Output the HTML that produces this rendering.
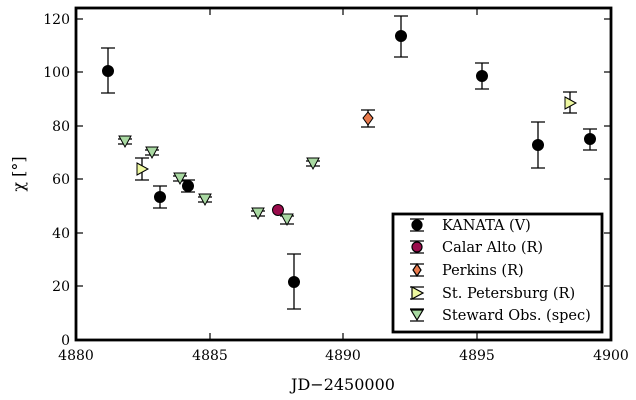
<!DOCTYPE html>
<html><head><style>body{margin:0;background:#fff}svg{display:block}text{font-family:"DejaVu Serif","Liberation Serif",serif}</style></head><body>
<svg width="636" height="400" viewBox="0 0 636 400" xmlns="http://www.w3.org/2000/svg">
<g stroke="#000" stroke-width="1.2">
<line x1="76" y1="340" x2="76" y2="333"/><line x1="210" y1="340" x2="210" y2="333"/><line x1="343" y1="340" x2="343" y2="333"/><line x1="477" y1="340" x2="477" y2="333"/>
<line x1="210" y1="8" x2="210" y2="15"/><line x1="343" y1="8" x2="343" y2="15"/><line x1="477" y1="8" x2="477" y2="15"/>
<line x1="76" y1="19" x2="83" y2="19"/><line x1="76" y1="72" x2="83" y2="72"/><line x1="76" y1="126" x2="83" y2="126"/><line x1="76" y1="179" x2="83" y2="179"/><line x1="76" y1="233" x2="83" y2="233"/><line x1="76" y1="286" x2="83" y2="286"/>
<line x1="611" y1="19" x2="604" y2="19"/><line x1="611" y1="72" x2="604" y2="72"/><line x1="611" y1="126" x2="604" y2="126"/><line x1="611" y1="179" x2="604" y2="179"/><line x1="611" y1="233" x2="604" y2="233"/><line x1="611" y1="286" x2="604" y2="286"/>
</g>
<g font-size="14" text-anchor="end" fill="#000">
<text x="70" y="24">120</text><text x="70" y="77">100</text><text x="70" y="131">80</text><text x="70" y="184">60</text><text x="70" y="238">40</text><text x="70" y="291">20</text><text x="70" y="345">0</text>
</g>
<g font-size="14" text-anchor="middle">
<text x="76" y="360">4880</text><text x="210" y="360">4885</text><text x="343" y="360">4890</text><text x="477" y="360">4895</text><text x="611" y="360">4900</text>
<text x="343" y="390" font-size="16">JD−2450000</text>
<text transform="translate(24,174) rotate(-90)" font-size="16">χ [°]</text>
</g>
<g stroke="#000" stroke-width="1.3" fill="none">
<path d="M108 48V93M101 48H115M101 93H115"/>
<path d="M160 186V208M153 186H167M153 208H167"/>
<path d="M188 180V192M181 180H195M181 192H195"/>
<path d="M294 254V309M287 254H301M287 309H301"/>
<path d="M401 16V57M394 16H408M394 57H408"/>
<path d="M482 63V89M475 63H489M475 89H489"/>
<path d="M538 122V168M531 122H545M531 168H545"/>
<path d="M590 129V150M583 129H597M583 150H597"/>
<path d="M368 110V127M361 110H375M361 127H375"/>
<path d="M142 158V180M135 158H149M135 180H149"/>
<path d="M570 92V113M563 92H577M563 113H577"/>
<path d="M118 139H132M145 150H159M173 176H187M198 197H212M251 211H265M280 216H294M306 161H320M280 224H294M118 144H132M145 155H159M173 181H187M198 202H212M251 216H265M306 166H320"/>
</g>
<g stroke="#000" stroke-width="1">
<circle cx="108" cy="71" r="5.5"/><circle cx="160" cy="197" r="5.5"/><circle cx="188" cy="186" r="5.5"/><circle cx="294" cy="282" r="5.5"/><circle cx="401" cy="36" r="5.5"/><circle cx="482" cy="76" r="5.5"/><circle cx="538" cy="145" r="5.5"/><circle cx="590" cy="139" r="5.5"/>
<circle cx="278" cy="210" r="5.5" fill="#9a0c4c"/>
<path d="M368 112L373 118L368 125L363 118Z" fill="#e8794c"/>
<path d="M137 163L148 169L137 175Z M565 97L576 103L565 109Z" fill="#eef8a0"/>
<g fill="#a9d9a2">
<path d="M119 136H131L125 147Z"/><path d="M146 147H158L152 158Z"/><path d="M174 173H186L180 184Z"/><path d="M199 194H211L205 205Z"/><path d="M252 208H264L258 219Z"/><path d="M281 214H293L287 225Z"/><path d="M307 158H319L313 169Z"/>
</g>
</g>
<rect x="76" y="8" width="535" height="332" fill="none" stroke="#000" stroke-width="2.8"/>
<rect x="393" y="214" width="209" height="118" fill="#fff" stroke="#000" stroke-width="2.8"/>
<g stroke="#000" stroke-width="1.2">
<path d="M410 219H424M410 231H424M417 219V231M410 241H424M410 253H424M410 264H424M410 276H424M410 287H424M410 299H424M410 309H424M410 321H424"/>
<circle cx="417" cy="225" r="5"/><circle cx="417" cy="247" r="5" fill="#9a0c4c"/>
<path d="M417 264L421 270L417 276L413 270Z" fill="#e8794c"/>
<path d="M412 287L423 293L412 299Z" fill="#eef8a0"/>
<path d="M411 310H423L417 320Z" fill="#a9d9a2"/>
</g>
<g font-size="14.5">
<text x="442" y="230">KANATA (V)</text><text x="442" y="252">Calar Alto (R)</text><text x="442" y="275">Perkins (R)</text><text x="442" y="298">St. Petersburg (R)</text><text x="442" y="320">Steward Obs. (spec)</text>
</g>
</svg>
</body></html>
